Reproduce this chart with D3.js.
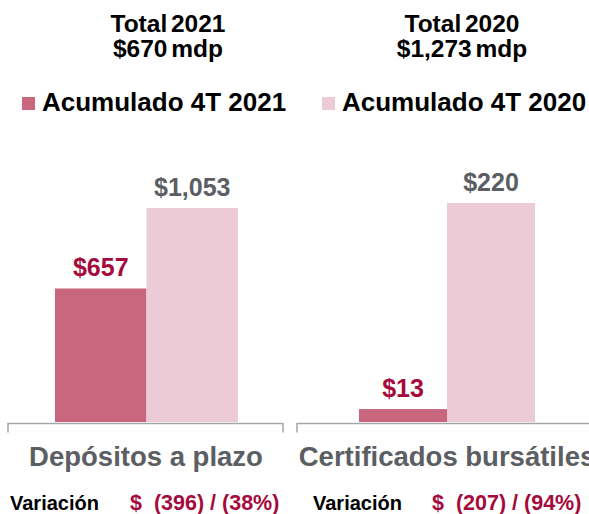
<!DOCTYPE html>
<html>
<head>
<meta charset="utf-8">
<script src="https://cdn.jsdelivr.net/npm/d3@7"></script>
<style>
  body { margin: 0; background: #fff; }
  text { font-family: "Liberation Sans", Arial, sans-serif; font-weight: bold; }
</style>
</head>
<body>
<div id="chart"></div>
<script>
// data
var categories = ["Depósitos a plazo", "Certificados bursátiles"];
var seriesNames = ["Acumulado 4T 2021", "Acumulado 4T 2020"];
var values2021 = [657, 13];
var values2020 = [1053, 220];
var totalTitles = [["Total 2021", "$670 mdp"], ["Total 2020", "$1,273 mdp"]];
var variacion = ["$  (396) / (38%)", "$  (207) / (94%)"];

var colors = ["#c9677f", "#edcbd6"];
var labelColors = ["#a50a3c", "#5b5e62"];

var W = 589, H = 514;
var svg = d3.select("#chart").append("svg").attr("width", W).attr("height", H);

// panel layout (each panel has its own scale)
var panels = [
  {axis: [8, 283], bars: [55, 238], top: 208, center: 146, varX: [10, 130]},
  {axis: [297, 610], bars: [359, 535], top: 203, center: 447, varX: [313, 432]}
];
var base = 422;

// titles
totalTitles.forEach(function(t, i) {
  var cx = i == 0 ? 168 : 462;
  svg.selectAll(null).data(t).enter().append("text")
    .attr("x", cx).attr("y", function(d, j) { return 31.5 + j * 25.5; })
    .attr("text-anchor", "middle").attr("font-size", 24.5)
    .attr("word-spacing", -3).attr("fill", "#000")
    .text(function(d) { return d; });
});

// legend
var legX = [22, 322];
var leg = svg.selectAll("g.leg").data(seriesNames).enter().append("g")
  .attr("transform", function(d, i) { return "translate(" + legX[i] + ",0)"; });
leg.append("rect").attr("x", 0).attr("y", 97).attr("width", 13).attr("height", 13)
  .attr("fill", function(d, i) { return colors[i]; });
leg.append("text").attr("x", 20).attr("y", 111).attr("font-size", 26)
  .attr("fill", "#000").text(function(d) { return d; });

categories.forEach(function(cat, ci) {
  var p = panels[ci];
  var vals = [values2021[ci], values2020[ci]];
  var x = d3.scaleBand().domain([0, 1]).range(p.bars).padding(0);
  var y = d3.scaleLinear().domain([0, d3.max(vals)]).range([base, p.top]);
  var g = svg.append("g");

  g.selectAll("rect").data(vals).enter().append("rect")
    .attr("x", function(d, i) { return x(i); })
    .attr("y", function(d) { return y(d); })
    .attr("width", x.bandwidth())
    .attr("height", function(d) { return base - y(d); })
    .attr("fill", function(d, i) { return colors[i]; });

  g.selectAll("text.val").data(vals).enter().append("text")
    .attr("class", "val")
    .attr("x", function(d, i) { return x(i) + x.bandwidth() / 2; })
    .attr("y", function(d) { return y(d) - 12; })
    .attr("text-anchor", "middle").attr("font-size", 25)
    .attr("fill", function(d, i) { return labelColors[i]; })
    .text(function(d) { return "$" + d3.format(",")(d); });

  // category axis
  var ay = base + 1.5;
  g.append("path")
    .attr("d", "M" + p.axis[0] + "," + (ay + 9) + "V" + ay + "H" + p.axis[1] + "V" + (ay + 9))
    .attr("fill", "none").attr("stroke", "#a6a6a6").attr("stroke-width", 1.5);

  g.append("text").attr("x", p.center).attr("y", 466)
    .attr("text-anchor", "middle").attr("font-size", 27.5).attr("fill", "#5b5e62")
    .text(cat);

  g.append("text").attr("x", p.varX[0]).attr("y", 510).attr("font-size", 20)
    .attr("fill", "#000").text("Variación");
  g.append("text").attr("x", p.varX[1]).attr("y", 510).attr("font-size", 21.5)
    .attr("fill", "#a50a3c")
    .style("white-space", "pre").text(variacion[ci]);
});
</script>
</body>
</html>
